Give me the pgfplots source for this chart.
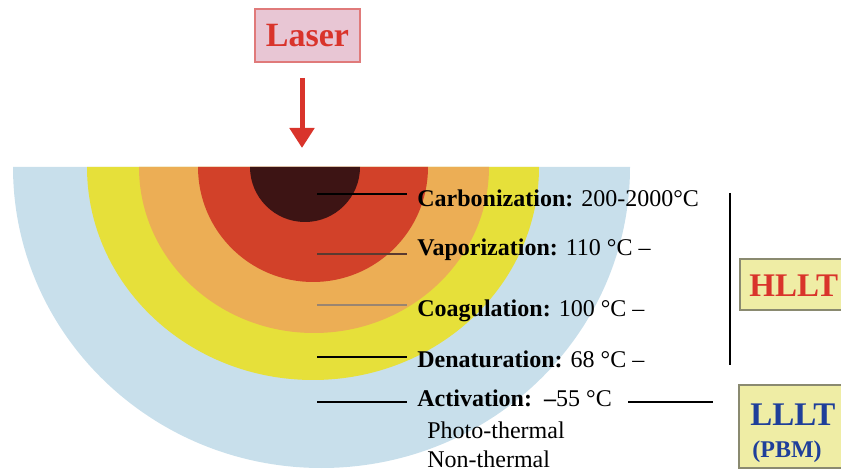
\documentclass[border=0pt]{standalone}
\usepackage{pgfplots}
\pgfplotsset{compat=1.18}
\usepackage{fontspec}
\setmainfont{Liberation Serif}
\usetikzlibrary{arrows.meta}
\definecolor{cblue}{HTML}{C8DFEB}
\definecolor{cyellow}{HTML}{E6E03A}
\definecolor{corange}{HTML}{ECAE55}
\definecolor{cred}{HTML}{D24129}
\definecolor{cdark}{HTML}{3D1414}
\definecolor{laserred}{HTML}{D9342B}
\definecolor{laserfill}{HTML}{E8C6D4}
\definecolor{laserborder}{HTML}{E07A7A}
\definecolor{boxfill}{HTML}{EFEDA5}
\definecolor{boxborder}{HTML}{8A8A70}
\definecolor{llltblue}{HTML}{1F3F9A}
\definecolor{line2}{HTML}{5A3A30}
\definecolor{line3}{HTML}{9A8570}
\begin{document}
\begin{tikzpicture}
\clip (0,0) rectangle (420.5pt,235pt);
\begin{axis}[
  at={(0,0)}, anchor=south west,
  x=0.5pt, y=0.5pt,
  xmin=0, xmax=841, ymin=0, ymax=470,
  y dir=reverse,
  hide axis, clip=false,
]
% concentric half discs (centre x, top y=167, x radius, y radius in px; 1px = 0.5pt)
\fill[cblue]   (axis cs:13,167)  arc[start angle=180,end angle=360,x radius=154.25pt,y radius=150.5pt] -- cycle;
\fill[cyellow] (axis cs:87,167)  arc[start angle=180,end angle=360,x radius=113pt,y radius=106.5pt] -- cycle;
\fill[corange] (axis cs:139,167) arc[start angle=180,end angle=360,x radius=87.5pt,y radius=83pt] -- cycle;
\fill[cred]    (axis cs:198,167) arc[start angle=180,end angle=360,x radius=57.5pt,y radius=57.5pt] -- cycle;
\fill[cdark]   (axis cs:250,167) arc[start angle=180,end angle=360,x radius=27.5pt,y radius=27.5pt] -- cycle;

% leader lines
\addplot[black, line width=0.75pt] coordinates {(317,194) (407,194)};
\addplot[line2, line width=0.75pt] coordinates {(317,254) (407,254)};
\addplot[line3, line width=0.75pt] coordinates {(317,305) (407,305)};
\addplot[black, line width=0.75pt] coordinates {(317,357) (407,357)};
\addplot[black, line width=0.75pt] coordinates {(317,402) (407,402)};
\addplot[black, line width=0.7pt] coordinates {(628,402) (713,402)};
\addplot[black, line width=0.7pt] coordinates {(730,193) (730,365)};

% labels
\begin{scope}[every node/.style={inner sep=0pt, anchor=base west, font=\fontsize{12}{14}\selectfont}]
\node at (axis cs:417,207) {\textbf{Carbonization:} 200-2000°C};
\node at (axis cs:417,256) {\textbf{Vaporization:} 110 °C –};
\node at (axis cs:417,317) {\textbf{Coagulation:} 100 °C –};
\node at (axis cs:417,368) {\textbf{Denaturation:} 68 °C –};
\node at (axis cs:417,407) {\textbf{Activation:}\ \ \textbf{–}55 °C};
\node at (axis cs:427,438) {Photo-thermal};
\node at (axis cs:427,467) {Non-thermal};
\end{scope}

% Laser box and arrow
\node[draw=laserborder, fill=laserfill, line width=0.8pt, minimum width=52.5pt, minimum height=26.5pt,
      inner sep=0pt, text=laserred, font=\bfseries\fontsize{17}{17}\selectfont] at (axis cs:307.5,35.5) {Laser};
\draw[laserred, line width=2.5pt, -{Triangle[width=12pt,length=10pt]}] (axis cs:302,78) -- (axis cs:302,148);

% HLLT / LLLT boxes
\draw[boxborder, fill=boxfill, line width=0.6pt] (axis cs:740,259) rectangle (axis cs:900,310);
\node[inner sep=0pt, anchor=base west, text=laserred, font=\bfseries\fontsize{16.5}{18}\selectfont] at (axis cs:749,297) {HLLT};
\draw[boxborder, fill=boxfill, line width=0.6pt] (axis cs:739,385) rectangle (axis cs:900,468);
\node[inner sep=0pt, anchor=base west, text=llltblue, font=\bfseries\fontsize{16.5}{18}\selectfont] at (axis cs:750,425) {LLLT};
\node[inner sep=0pt, anchor=base west, text=llltblue, font=\bfseries\fontsize{12}{14}\selectfont] at (axis cs:752,457) {(PBM)};
\end{axis}
\end{tikzpicture}
\end{document}
